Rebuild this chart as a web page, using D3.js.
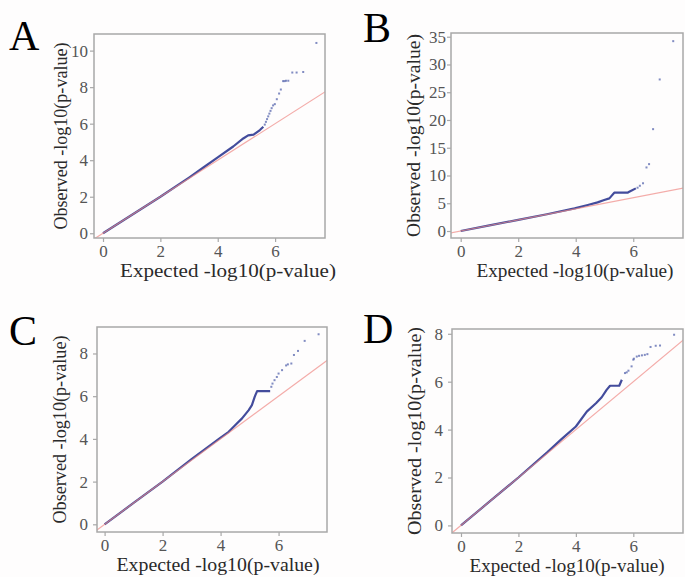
<!DOCTYPE html>
<html>
<head>
<meta charset="utf-8">
<script src="https://cdn.jsdelivr.net/npm/d3@7"></script>
<style>
  body { margin: 0; background: #fff; }
</style>
</head>
<body>
<svg width="685" height="577"></svg>
<script>
// expected vs observed -log10(p)
const aBulk = [[0,0],[1,1],[2,2],[3,3.05],[3.5,3.6],[4,4.15],[4.54,4.75],[4.89,5.19],[5.06,5.36],[5.25,5.4],[5.47,5.65],[5.59,5.83]];
const aTail = [[5.64,5.95],[5.68,6.1],[5.72,6.25],[5.76,6.4],[5.8,6.55],[5.84,6.7],[5.88,6.85],[5.93,7.0],[5.99,7.07],[6.06,7.34],[6.14,7.65],[6.2,7.87],
  [6.28,8.33],[6.33,8.33],[6.38,8.35],[6.46,8.35],[6.6,8.8],[6.75,8.8],[6.98,8.83],[7.44,10.42]];

const bBulk = [[0,0],[1,1],[2,2],[3,3.02],[3.96,4.08],[4.42,4.68],[4.76,5.16],[4.99,5.58],[5.17,5.88],[5.34,6.9],[5.8,6.9],[5.86,7.07],[6.09,7.68]];
const bTail = [[6.15,7.8],[6.23,8.15],[6.34,8.6],[6.46,11.45],[6.55,12.05],[6.69,18.35],[6.92,27.3],[7.39,34.2]];

const cBulk = [[0,0],[1,1],[2,2],[3,3.05],[3.99,4.05],[4.28,4.33],[4.51,4.65],[4.74,4.96],[4.97,5.35],[5.08,5.58],[5.17,5.94],[5.2,6.05],[5.26,6.24],[5.71,6.24]];
const cTail = [[5.75,6.44],[5.79,6.59],[5.86,6.75],[5.94,6.9],[6.0,7.06],[6.12,7.22],[6.26,7.44],[6.32,7.49],[6.44,7.53],[6.53,7.93],[6.67,8.12],[6.9,8.59],[7.38,8.9]];

const dBulk = [[0,0],[1,1],[2,2],[3,3.05],[3.5,3.6],[4,4.13],[4.38,4.75],[4.7,5.1],[4.9,5.35],[5.07,5.66],[5.19,5.83],[5.51,5.83],[5.6,6.08]];
const dTail = [[5.71,6.36],[5.77,6.39],[5.83,6.46],[5.94,6.64],[6.0,6.92],[6.02,6.96],[6.12,7.05],[6.2,7.08],[6.3,7.1],[6.4,7.12],[6.49,7.15],
  [6.6,7.45],[6.78,7.5],[6.93,7.51],[7.42,7.96]];

const xTicks = [0, 2, 4, 6];
const aYTicks = [0, 2, 4, 6, 8, 10];
const bYTicks = [0, 5, 10, 15, 20, 25, 30, 35];
const cYTicks = [0, 2, 4, 6, 8];
const dYTicks = [0, 2, 4, 6, 8];

const xTitle = "Expected -log10(p-value)";
const yTitle = "Observed -log10(p-value)";

const serif = "'Liberation Serif', 'Times New Roman', Times, serif";

// layout of the four panels
let panels = [
  {letter: "A", bulk: aBulk, tail: aTail, yTicks: aYTicks, box: [94, 34, 325, 238], xDom: [-0.314, 7.74], yDom: [-0.26, 10.91],
   lx: 9, ly: 50, ylabX: 67, ylabLen: 187, xlabX: 228, xlabLen: 216, pad: 2},
  {letter: "B", bulk: bBulk, tail: bTail, yTicks: bYTicks, box: [451, 33, 683, 238], xDom: [-0.337, 7.73], yDom: [-1.26, 35.67],
   lx: 363, ly: 42, ylabX: 420, ylabLen: 203, xlabX: 575, xlabLen: 197, pad: 1},
  {letter: "C", bulk: cBulk, tail: cTail, yTicks: cYTicks, box: [97, 327, 327, 532], xDom: [-0.262, 7.67], yDom: [-0.36, 9.24],
   lx: 9, ly: 345, ylabX: 66, ylabLen: 188, xlabX: 218, xlabLen: 203, pad: 5},
  {letter: "D", bulk: dBulk, tail: dTail, yTicks: dYTicks, box: [452, 329, 683, 533], xDom: [-0.313, 7.73], yDom: [-0.317, 8.2],
   lx: 363, ly: 343, ylabX: 421, ylabLen: 208, xlabX: 567, xlabLen: 195, pad: 5}
];

let svg = d3.select("svg").attr("font-family", serif);
svg.append("rect").attr("width", 685).attr("height", 577).attr("fill", "#fefdfd");

panels.forEach((p, i) => {
  let [x0, y0, x1, y1] = p.box;
  let x = d3.scaleLinear().domain(p.xDom).range([x0, x1]),
    y = d3.scaleLinear().domain(p.yDom).range([y1, y0]);

  let g = svg.append("g").attr("class", "panel");

  g.append("clipPath").attr("id", "clip" + i)
    .append("rect")
    .attr("x", x0).attr("y", y0)
    .attr("width", x1 - x0).attr("height", y1 - y0);

  let plot = g.append("g").attr("clip-path", "url(#clip" + i + ")");

  let line = d3.line()
    .x(d => x(d[0]))
    .y(d => y(d[1]));

  plot.append("path")
    .attr("d", line(p.bulk))
    .attr("fill", "none")
    .attr("stroke", "#434c9c")
    .attr("stroke-width", 2.2)
    .attr("stroke-linejoin", "round");

  plot.selectAll(".pt")
    .data(p.tail)
    .enter()
    .append("rect")
    .attr("class", "pt")
    .attr("x", d => x(d[0]) - 1)
    .attr("y", d => y(d[1]) - 1)
    .attr("width", 2)
    .attr("height", 2)
    .attr("fill", "#5766ad")
    .attr("opacity", 0.75);

  // y = x reference line
  let lo = Math.min(p.xDom[0], p.yDom[0]), hi = Math.max(p.xDom[1], p.yDom[1]);
  plot.append("line")
    .attr("x1", x(lo)).attr("y1", y(lo))
    .attr("x2", x(hi)).attr("y2", y(hi))
    .attr("stroke", "#f08a86")
    .attr("stroke-width", 1.2)
    .attr("opacity", 0.7);

  g.append("rect")
    .attr("x", x0).attr("y", y0)
    .attr("width", x1 - x0).attr("height", y1 - y0)
    .attr("fill", "none")
    .attr("stroke", "#a8a8a8")
    .attr("stroke-width", 1.5);

  let ax = g.append("g")
    .attr("transform", "translate(0," + y1 + ")")
    .call(d3.axisBottom(x).tickValues(xTicks).tickSize(4).tickPadding(3));

  let ay = g.append("g")
    .attr("transform", "translate(" + x0 + ",0)")
    .call(d3.axisLeft(y).tickValues(p.yTicks).tickSize(4).tickPadding(p.pad));

  [ax, ay].forEach(a => {
    a.attr("font-family", serif).attr("font-size", 17);
    a.select(".domain").remove();
    a.selectAll(".tick line").attr("stroke", "#a8a8a8").attr("stroke-width", 1.2);
    a.selectAll(".tick text").attr("fill", "#555");
  });

  g.append("text")
    .attr("x", p.xlabX)
    .attr("y", y1 + 39)
    .attr("text-anchor", "middle")
    .attr("textLength", p.xlabLen)
    .attr("lengthAdjust", "spacingAndGlyphs")
    .attr("fill", "#2a2a2a")
    .attr("font-size", 19)
    .text(xTitle);

  g.append("text")
    .attr("transform", "translate(" + p.ylabX + "," + (y0 + y1) / 2 + ") rotate(-90)")
    .attr("text-anchor", "middle")
    .attr("textLength", p.ylabLen)
    .attr("lengthAdjust", "spacingAndGlyphs")
    .attr("fill", "#2a2a2a")
    .attr("font-size", 19)
    .text(yTitle);

  g.append("text")
    .attr("x", p.lx)
    .attr("y", p.ly)
    .attr("fill", "#000")
    .attr("font-size", 42)
    .text(p.letter);
});
</script>
</body>
</html>
